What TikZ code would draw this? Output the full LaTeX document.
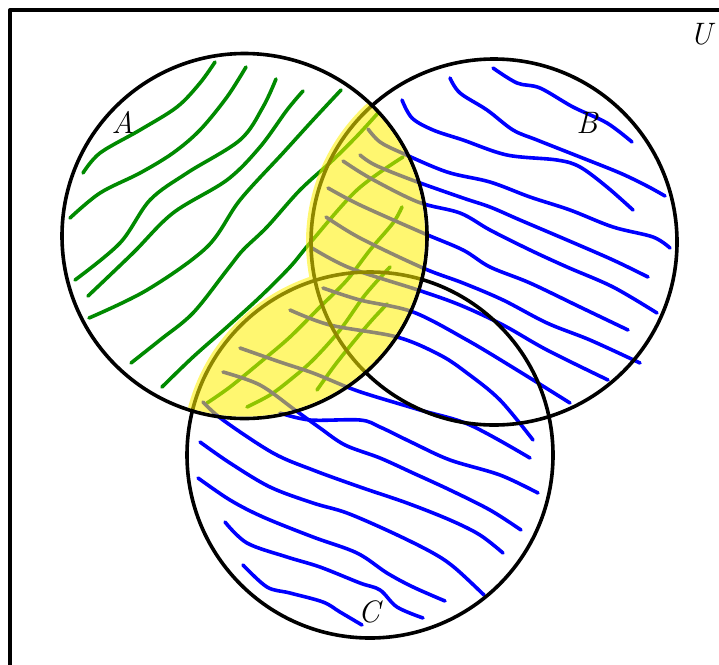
\documentclass[tikz,border=0pt]{standalone}
\usepackage{fontspec}
\definecolor{greenS}{RGB}{0,138,0}
\begin{document}
\begin{tikzpicture}[x=1pt,y=-1pt, line cap=round, line join=round,
  gstroke/.style={draw=greenS, line width=3.6pt},
  bstroke/.style={draw=blue, line width=3.6pt},
  ring/.style={draw=black, line width=3.6pt},
  lbl/.style={font=\fontsize{31}{31}\selectfont\itshape, inner sep=0pt}]
\useasboundingbox (0,0) rectangle (719,664);
\clip (0,0) rectangle (719,664);
\fill[white] (0,0) rectangle (719,664);
% universe frame
\draw[line width=4pt] (10,10) rectangle (760,720);
% green hatching in A
\foreach \pts in {
 {(83,173) (100,153) (140,130) (177,107) (200,83) (215,62)},
 {(70,218) (100,193) (140,173) (173,153) (200,130) (227,97) (246,67)},
 {(75,280) (120,243) (150,200) (187,173) (240,140) (263,107) (276,79)},
 {(88,296) (133,253) (173,213) (227,180) (260,147) (287,110) (303,91)},
 {(89,318) (147,290) (207,247) (240,200) (283,153) (313,120) (341,90)},
 {(131,363) (160,340) (193,313) (227,270) (243,250) (267,227) (300,190) (333,160) (358,135) (378,113)},
 {(162,387) (193,357) (227,327) (260,297) (290,267) (310,243) (357,190) (403,157)},
 {(207,403) (230,387) (263,360) (290,337) (320,307) (347,280) (370,250) (393,223) (402,207)},
 {(247,407) (270,395) (290,380) (313,360) (340,330) (365,295) (390,267)},
 {(317,390) (335,365) (355,340) (372,320) (387,304)}}
 \draw[gstroke] plot[smooth, tension=0.55] coordinates \pts;
% blue hatching in B and C
\foreach \pts in {
 {(493,68) (517,83) (540,88) (573,107) (607,123) (632,142)},
 {(450,78) (460,93) (487,110) (513,130) (537,140) (580,157) (620,173) (647,186) (665,196)},
 {(402,100) (412,118) (433,130) (463,140) (507,155) (557,160) (580,167) (607,187) (633,210)},
 {(368,129) (380,142) (402,153) (447,172) (490,182) (530,197) (570,210) (613,227) (653,237) (670,248)},
 {(360,155) (375,165) (412,180) (463,198) (490,207) (520,220) (567,240) (613,260) (648,277)},
 {(343,161) (370,178) (418,202) (460,213) (490,230) (530,250) (567,267) (613,287) (657,313)},
 {(328,188) (360,205) (423,233) (463,250) (490,267) (530,283) (580,307) (628,330)},
 {(326,217) (360,238) (423,268) (463,283) (503,300) (547,323) (590,340) (640,363)},
 {(312,248) (350,268) (418,290) (460,305) (503,325) (547,350) (608,380)},
 {(323,288) (360,300) (413,312) (467,340) (517,370) (570,403)},
 {(290,310) (330,325) (397,337) (440,355) (467,373) (500,400) (533,440)},
 {(240,348) (280,362) (313,373) (347,387) (370,395) (420,410) (470,425) (530,458)},
 {(280,413) (310,420) (360,420) (380,427) (413,443) (450,460) (500,475) (538,493)},
 {(223,372) (260,385) (295,410) (320,428) (345,445) (380,458) (413,473) (450,490) (490,510) (521,530)},
 {(203,402) (223,420) (273,453) (313,470) (360,487) (407,503) (450,520) (480,535) (503,553)},
 {(200,442) (230,463) (270,487) (313,503) (347,513) (393,533) (433,553) (455,568) (484,595)},
 {(198,478) (230,500) (263,517) (313,537) (357,553) (387,573) (413,587) (445,601)},
 {(225,522) (247,543) (287,557) (320,567) (360,583) (380,590) (397,607) (423,618)},
 {(243,565) (267,587) (290,593) (323,602) (340,612) (362,625)}}
 \draw[bstroke] plot[smooth, tension=0.55] coordinates \pts;
% circles
\draw[ring] (244.5,236) circle[radius=182.5];
\draw[ring] (494,242) circle[radius=183];
\draw[ring] (370,455) circle[radius=183];
% yellow highlight A ∩ (B ∪ C)
\begin{scope}
 \clip (244.5,236) circle[radius=180.5];
 \fill[yellow, opacity=0.56] (494,242) circle[radius=188] (370,455) circle[radius=188];
\end{scope}
% labels
\node[lbl] (labA) at (123,122) {A};
\node[lbl] (labB) at (587,123) {B};
\node[lbl] (labC) at (369,612) {C};
\node[lbl] (labU) at (701,34) {U};
\end{tikzpicture}
\end{document}
